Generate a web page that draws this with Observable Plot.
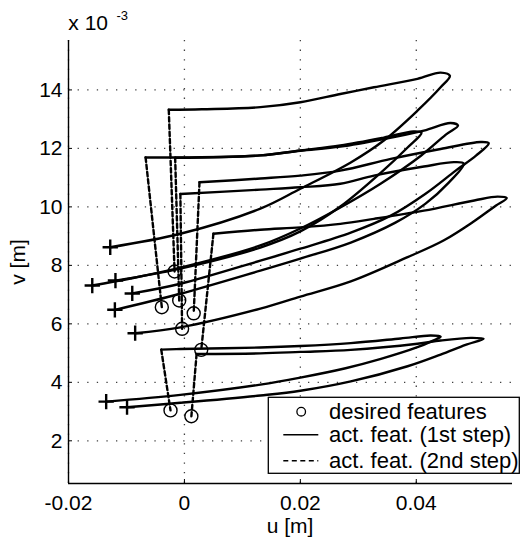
<!DOCTYPE html>
<html>
<head>
<meta charset="utf-8">
<script src="https://cdn.jsdelivr.net/npm/d3@7"></script>
<script src="https://cdn.jsdelivr.net/npm/@observablehq/plot@0.6"></script>
<style>
  html, body { margin: 0; padding: 0; background: #fff; }
  #chart { position: relative; width: 520px; height: 539px; }
</style>
</head>
<body>
<div id="chart"></div>
<script>
// ---- axis setup (u in m, v in units of 1e-3 m) ----
const xTicks = [-0.02, 0, 0.02, 0.04];
const yTicks = [2, 4, 6, 8, 10, 12, 14];
const xDomain = [-0.02, 0.0566];
const yDomain = [0.54, 15.69];

// ---- trajectories: start (+) -> tip -> corner  (1st step, solid) ----
const path1 = [[-0.0128,8.62],[-0.0007,9.08],[0.0131,9.94],[0.0200,10.62],[0.0287,11.52],[0.0344,12.27],[0.0402,13.29],[0.0442,14.09],[0.0458,14.48],[0.0442,14.59],[0.0402,14.38],[0.0327,14.09],[0.0269,13.86],[0.0200,13.58],[0.0131,13.41],[0.0030,13.34],[-0.0027,13.32]];
const path2 = [[-0.0159,7.31],[-0.0093,7.55],[-0.0007,7.92],[0.0131,8.68],[0.0200,9.26],[0.0269,9.98],[0.0339,10.80],[0.0408,11.75],[0.0451,12.47],[0.0472,12.78],[0.0459,12.87],[0.0413,12.61],[0.0344,12.32],[0.0269,12.06],[0.0200,11.92],[0.0131,11.76],[-0.0007,11.69],[-0.0067,11.69]];
const path3 = [[-0.0119,7.48],[-0.0007,7.89],[0.0131,8.61],[0.0200,9.16],[0.0269,10.01],[0.0339,11.17],[0.0385,12.03],[0.0409,12.54],[0.0395,12.58],[0.0344,12.37],[0.0269,12.10],[0.0200,11.93],[0.0131,11.76],[-0.0016,11.68]];
const path4 = [[-0.0090,7.04],[-0.0007,7.37],[0.0131,8.16],[0.0200,8.57],[0.0287,9.12],[0.0356,9.70],[0.0416,10.45],[0.0468,11.24],[0.0503,11.75],[0.0525,12.18],[0.0511,12.22],[0.0442,11.98],[0.0356,11.64],[0.0269,11.24],[0.0200,11.07],[0.0131,10.97],[0.0026,10.84]];
const path5 = [[-0.0120,6.48],[-0.0007,7.03],[0.0131,7.82],[0.0200,8.23],[0.0287,8.78],[0.0364,9.46],[0.0416,10.11],[0.0456,10.83],[0.0482,11.48],[0.0465,11.53],[0.0413,11.38],[0.0327,11.07],[0.0269,10.79],[0.0200,10.67],[0.0131,10.59],[-0.0007,10.44]];
const path6 = [[-0.0085,5.68],[-0.0007,5.88],[0.0131,6.52],[0.0200,6.93],[0.0287,7.45],[0.0385,8.28],[0.0447,8.85],[0.0499,9.50],[0.0537,10.04],[0.0556,10.30],[0.0540,10.35],[0.0500,10.22],[0.0413,9.87],[0.0327,9.59],[0.0269,9.42],[0.0200,9.30],[0.0131,9.22],[0.0050,9.08]];
const path7 = [[-0.0135,3.34],[-0.0007,3.57],[0.0131,3.92],[0.0200,4.16],[0.0278,4.48],[0.0339,4.80],[0.0402,5.20],[0.0428,5.42],[0.0442,5.56],[0.0425,5.60],[0.0373,5.50],[0.0287,5.34],[0.0200,5.24],[0.0131,5.19],[-0.0007,5.14],[-0.0040,5.12]];
const path8 = [[-0.0099,3.15],[-0.0007,3.30],[0.0131,3.55],[0.0200,3.71],[0.0287,4.03],[0.0385,4.55],[0.0442,4.95],[0.0485,5.28],[0.0516,5.49],[0.0494,5.52],[0.0442,5.43],[0.0402,5.32],[0.0287,5.11],[0.0200,5.04],[0.0131,4.99],[0.0021,4.97]];

// ---- desired features (circles); the 2nd step (dashed) runs from each corner to its circle ----
const desiredU = [-0.0017, -0.0039, -0.0009, 0.0016, -0.0004, 0.0029, -0.0024, 0.0012];
const desiredV = [7.79, 6.57, 6.80, 6.36, 5.83, 5.11, 3.04, 2.84];

const legendLabels = ["desired features", "act. feat. (1st step)", "act. feat. (2nd step)"];

// ---- tables built from the arrays ----
const paths = [path1, path2, path3, path4, path5, path6, path7, path8];
const solid = paths.flatMap((p, i) => p.map(([u, v]) => ({u, v, id: i})));
const starts = paths.map(p => ({u: p[0][0], v: p[0][1]}));
const desired = desiredU.map((u, i) => ({u, v: desiredV[i]}));
const dashed = paths.flatMap((p, i) => {
  const c = p[p.length - 1];
  return [{u: c[0], v: c[1], id: i}, {u: desiredU[i], v: desiredV[i], id: i}];
});

const font = "'Liberation Sans', Arial, Helvetica, sans-serif";
const fmtX = d => d === 0 ? "0" : String(d);

const svg = Plot.plot({
  width: 520,
  height: 539,
  marginLeft: 68,
  marginRight: 8,
  marginTop: 40,
  marginBottom: 56,
  style: {fontFamily: font, fontSize: "21px", color: "#000", background: "#fff"},
  x: {domain: xDomain, label: null},
  y: {domain: yDomain, label: null},
  marks: [
    Plot.gridX(xTicks, {stroke: "#000", strokeOpacity: 0.75, strokeWidth: 1.3, strokeDasharray: "1.3,8.3"}),
    Plot.gridY(yTicks, {stroke: "#000", strokeOpacity: 0.75, strokeWidth: 1.3, strokeDasharray: "1.3,8.3"}),
    Plot.line(dashed, {x: "u", y: "v", z: "id", stroke: "#000", strokeWidth: 2.4, strokeDasharray: "4.5,2.8"}),
    Plot.line(solid, {x: "u", y: "v", z: "id", curve: "catmull-rom", stroke: "#000", strokeWidth: 2.4}),
    Plot.dot(desired, {x: "u", y: "v", r: 6.5, stroke: "#000", strokeWidth: 1.4, fill: "none"}),
    Plot.dot(starts, {x: "u", y: "v", symbol: "plus", r: 5, stroke: "#000", strokeWidth: 2.4}),
    Plot.ruleX([xDomain[0]], {stroke: "#000", strokeWidth: 1.4}),
    Plot.ruleY([yDomain[0]], {stroke: "#000", strokeWidth: 1.4}),
    Plot.axisX(xTicks, {tickSize: 0, tickPadding: 12, tickFormat: fmtX, label: null, fontSize: 21}),
    Plot.axisX(xTicks, {tickSize: 4, dy: -4, tickFormat: () => "", label: null}),
    Plot.axisY(yTicks, {tickSize: 0, tickPadding: 6, tickFormat: d => String(d), label: null, fontSize: 21}),
    Plot.axisY(yTicks, {tickSize: 4, dx: 4, tickFormat: () => "", label: null})
  ]
});

document.getElementById("chart").appendChild(svg);

// ---- titles, axis labels and legend (layout only) ----
const s = d3.select(svg);
const g = s.append("g").attr("font-family", font).attr("fill", "#000").attr("text-anchor", "start");
g.append("text").attr("x", 68.3).attr("y", 30).attr("font-size", 21).text("x 10");
g.append("text").attr("x", 116.5).attr("y", 19.5).attr("font-size", 13).text("-3");
g.append("text").attr("x", 290).attr("y", 533).attr("font-size", 21).attr("text-anchor", "middle").text("u [m]");
g.append("text").attr("transform", "translate(25,262) rotate(-90)").attr("font-size", 21).attr("text-anchor", "middle").text("v [m]");

const lg = s.append("g").attr("font-family", font).attr("text-anchor", "start");
lg.append("rect").attr("x", 268.3).attr("y", 397.3).attr("width", 251).attr("height", 76)
  .attr("fill", "#fff").attr("stroke", "#000").attr("stroke-width", 1.3);
const rowsY = [411.7, 434.8, 460.7];
lg.append("circle").attr("cx", 301.2).attr("cy", rowsY[0]).attr("r", 4.3)
  .attr("fill", "none").attr("stroke", "#000").attr("stroke-width", 1.3);
lg.append("line").attr("x1", 283.3).attr("x2", 318.3).attr("y1", rowsY[1]).attr("y2", rowsY[1])
  .attr("stroke", "#000").attr("stroke-width", 1.6);
lg.append("line").attr("x1", 283.3).attr("x2", 318.3).attr("y1", rowsY[2]).attr("y2", rowsY[2])
  .attr("stroke", "#000").attr("stroke-width", 1.6).attr("stroke-dasharray", "5,3.5");
legendLabels.forEach((t, i) => {
  lg.append("text").attr("x", 329).attr("y", rowsY[i]).attr("dy", "0.33em")
    .attr("font-size", 22).attr("fill", "#000").attr("text-anchor", "start").text(t);
});
</script>
</body>
</html>
